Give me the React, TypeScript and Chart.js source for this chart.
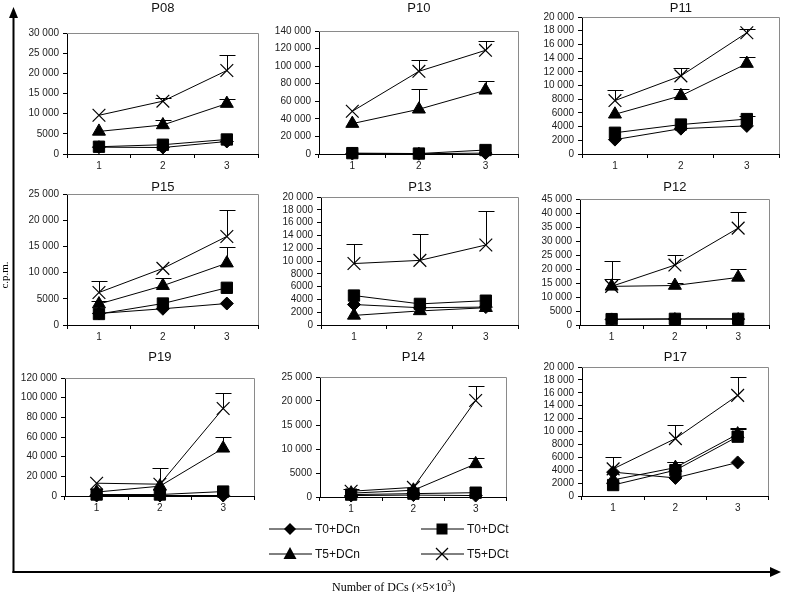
import React, { useEffect, useRef } from 'react';
import { Chart, registerables } from 'chart.js';

Chart.register(...registerables);

// ---------- data ----------
const categories = ['1', '2', '3'];
const seriesNames = ['T0+DCn', 'T0+DCt', 'T5+DCn', 'T5+DCt'];
const panelNames = ['P08', 'P10', 'P11', 'P15', 'P13', 'P12', 'P19', 'P14', 'P17'];
const yMaxes = [30000, 140000, 20000, 25000, 20000, 45000, 120000, 25000, 20000];
const ySteps = [5000, 20000, 2000, 5000, 2000, 5000, 20000, 5000, 2000];

// values per panel (same order as panelNames), points at 1, 2, 3
const t0DCn = [
  [1700, 1600, 3100], [500, 300, 1000], [2100, 3700, 4100],
  [2200, 3100, 4100], [3200, 2700, 2800], [2000, 2100, 2100],
  [500, 500, 500], [300, 400, 300], [3700, 2800, 5200],
];
const t0DCt = [
  [1800, 2300, 3600], [1000, 500, 4500], [3100, 4300, 5100],
  [2100, 4100, 7100], [4600, 3300, 3800], [2100, 2200, 2200],
  [1500, 1500, 4500], [500, 700, 900], [1700, 4000, 9200],
];
const t5DCn = [
  [5600, 7200, 12500], [34600, 50900, 72500], [5800, 8500, 13200],
  [4000, 7500, 11800], [1500, 2200, 2700], [13800, 14100, 17000],
  [4000, 10000, 48500], [800, 1400, 6900], [2500, 4400, 9600],
];
const t5DCt = [
  [9600, 13100, 20700], [48600, 94100, 118000], [7800, 11400, 17700],
  [6200, 10800, 16900], [9600, 10100, 12500], [13800, 21400, 34600],
  [13000, 12000, 89000], [1200, 2000, 20100], [4200, 8900, 15600],
];

// upward error (plus) amounts, null = no bar
const t0DCnErr = [
  [null, null, null], [null, null, null], [null, null, null],
  [null, null, null], [null, null, null], [null, null, null],
  [null, null, null], [null, null, null], [null, null, null],
];
const t0DCtErr = [
  [null, null, null], [null, null, null], [null, null, 500],
  [null, null, null], [null, null, null], [null, null, null],
  [null, null, null], [null, null, null], [null, 1300, 1200],
];
const t5DCnErr = [
  [null, 1200, 1200], [null, 23100, 10600], [null, 1000, 900],
  [500, 1500, 3000], [null, null, null], [2800, 900, 2900],
  [null, null, 11500], [null, null, 1300], [null, 800, 1000],
];
const t5DCtErr = [
  [null, 900, 3900], [null, 12500, 10600], [1500, 1100, 500],
  [2200, null, 5100], [3100, 4100, 5300], [9000, 3600, 5800],
  [null, 16000, 16000], [500, null, 3000], [1800, 2100, 2900],
];

const seriesValues = [t0DCn, t0DCt, t5DCn, t5DCt];
const seriesErrors = [t0DCnErr, t0DCtErr, t5DCnErr, t5DCtErr];

// ---------- layout / style ----------
const pointStyles = ['rectRot', 'rect', 'triangle', 'crossRot'];
const pointRadii = [6.5, 8, 7.5, 9];
// plot boxes [left, top, right, bottom] in page pixels
const boxes = [
  [67, 33, 267, 154], [319, 31, 527, 154], [582, 17, 788, 154],
  [67, 194, 267, 325], [321, 197, 527, 325], [580, 199, 778, 325],
  [65, 378, 263, 496], [320, 377, 515, 497], [582, 367, 777, 496],
];
const rowCanvasTop = [0, 176, 346];
const rowTitleY = [8, 187, 357];
const YW = 60;
const XH = 20;
const PR = 2;
const SANS = '"Liberation Sans", Arial, sans-serif';
const SERIF = '"Liberation Serif", "Times New Roman", serif';

function fmt(v: number) {
  if (v >= 10000) {
    const th = Math.floor(v / 1000);
    const rest = String(v % 1000).padStart(3, '0');
    return th + ' ' + rest;
  }
  return String(v);
}

const decorPlugin = {
  id: 'panelDecor',
  beforeDatasetsDraw(chart: any) {
    const { ctx, chartArea: a } = chart;
    ctx.save();
    ctx.strokeStyle = '#8a8a8a';
    ctx.lineWidth = 1;
    const t = Math.round(a.top) + 0.5;
    const r = Math.round(a.right) - 0.5;
    ctx.beginPath();
    ctx.moveTo(Math.round(a.left), t);
    ctx.lineTo(r, t);
    ctx.lineTo(r, Math.round(a.bottom));
    ctx.stroke();
    ctx.restore();
  },
  afterDatasetsDraw(chart: any) {
    const { ctx } = chart;
    const yScale = chart.scales.y;
    ctx.save();
    ctx.strokeStyle = '#000';
    ctx.lineWidth = 1;
    chart.data.datasets.forEach((ds: any, i: number) => {
      const meta = chart.getDatasetMeta(i);
      (ds.errorPlus || []).forEach((e: number | null, j: number) => {
        if (e == null) return;
        const pt = meta.data[j];
        const v = ds.data[j];
        const x = Math.round(pt.x) + 0.5;
        const y0 = pt.y;
        const y1 = Math.round(yScale.getPixelForValue(v + e)) + 0.5;
        ctx.beginPath();
        ctx.moveTo(x, y0);
        ctx.lineTo(x, y1);
        ctx.moveTo(x - 8, y1);
        ctx.lineTo(x + 8, y1);
        ctx.stroke();
      });
    });
    ctx.restore();
  },
  afterDraw(chart: any, _args: any, opts: any) {
    const { ctx, chartArea: a } = chart;
    ctx.save();
    ctx.fillStyle = '#111';
    ctx.font = '13px ' + SANS;
    ctx.textAlign = 'center';
    ctx.textBaseline = 'middle';
    ctx.fillText(opts.title, (a.left + a.right) / 2, opts.titleY);
    ctx.restore();
  },
};

function Panel({ index }: { index: number }) {
  const ref = useRef<HTMLCanvasElement>(null);
  const [L, T, R, B] = boxes[index];
  const row = Math.floor(index / 3);
  const top = rowCanvasTop[row];
  const left = L - YW;
  const PT = T - top;
  const width = R - L + YW + PR;
  const height = B - top + XH;

  useEffect(() => {
    const chart = new Chart(ref.current as HTMLCanvasElement, {
      type: 'line',
      data: {
        labels: categories,
        datasets: seriesNames.map((name, s) => ({
          label: name,
          data: seriesValues[s][index],
          errorPlus: seriesErrors[s][index],
          borderColor: '#000',
          backgroundColor: '#000',
          borderWidth: 1,
          pointStyle: pointStyles[s],
          pointRadius: pointRadii[s],
          pointBorderWidth: s === 3 ? 1.2 : 1,
          pointBackgroundColor: '#000',
          pointBorderColor: '#000',
          tension: 0,
          clip: false,
        })) as any,
      },
      options: {
        animation: false,
        responsive: false,
        events: [],
        layout: { padding: { top: PT, right: PR, left: 0, bottom: 0 } },
        plugins: {
          legend: { display: false },
          tooltip: { enabled: false },
          title: { display: false },
          panelDecor: { title: panelNames[index], titleY: rowTitleY[row] - top },
        } as any,
        scales: {
          x: {
            type: 'category',
            offset: true,
            grid: { offset: true, drawOnChartArea: false, tickLength: 4, color: '#000' },
            border: { color: '#000', width: 1 },
            ticks: { font: { family: SANS, size: 10 }, color: '#222', padding: 2, maxRotation: 0, autoSkip: false },
            afterFit: (s: any) => { s.height = XH; },
          },
          y: {
            min: 0,
            max: yMaxes[index],
            ticks: {
              stepSize: ySteps[index],
              autoSkip: false,
              callback: (v: any) => fmt(Number(v)),
              font: { family: SANS, size: 10 },
              color: '#222',
              padding: 4,
            },
            grid: { drawOnChartArea: false, tickLength: 4, color: '#000' },
            border: { color: '#000', width: 1 },
            afterFit: (s: any) => { s.width = YW; },
          },
        },
      } as any,
      plugins: [decorPlugin],
    });
    return () => chart.destroy();
  }, []);

  return (
    <canvas
      ref={ref}
      width={width}
      height={height}
      style={{ position: 'absolute', left, top, width, height }}
    />
  );
}

function Marker({ kind, x, y }: { kind: number; x: number; y: number }) {
  if (kind === 0) return <polygon points={`${x - 6},${y} ${x},${y - 6} ${x + 6},${y} ${x},${y + 6}`} fill="#000" />;
  if (kind === 1) return <rect x={x - 5.5} y={y - 5.5} width={11} height={11} fill="#000" />;
  if (kind === 2) return <polygon points={`${x},${y - 7} ${x + 6.5},${y + 5} ${x - 6.5},${y + 5}`} fill="#000" />;
  return (
    <g stroke="#000" strokeWidth={1.2}>
      <line x1={x - 6} y1={y - 6} x2={x + 6} y2={y + 6} />
      <line x1={x - 6} y1={y + 6} x2={x + 6} y2={y - 6} />
    </g>
  );
}

export default function App() {
  const legendPos = [
    { x: 269, y: 529 }, { x: 421, y: 529 },
    { x: 269, y: 554 }, { x: 421, y: 554 },
  ];
  return (
    <div style={{ position: 'absolute', left: 0, top: 0, width: 790, height: 592, background: '#fff', overflow: 'hidden' }}>
      {panelNames.map((_, i) => <Panel key={i} index={i} />)}
      <svg width={790} height={592} style={{ position: 'absolute', left: 0, top: 0 }}>
        {/* big axes */}
        <line x1={13.5} y1={573} x2={13.5} y2={16} stroke="#000" strokeWidth={2} />
        <polygon points="13.5,7 9,18 18,18" fill="#000" />
        <line x1={12.5} y1={572} x2={771} y2={572} stroke="#000" strokeWidth={2} />
        <polygon points="781,572 770,567 770,577" fill="#000" />
        <text transform="translate(8,275) rotate(-90)" textAnchor="middle" fontFamily={SERIF} fontSize={11} fill="#000">c.p.m.</text>
        {/* legend */}
        {seriesNames.map((name, s) => {
          const p = legendPos[s];
          return (
            <g key={name}>
              <line x1={p.x} y1={p.y} x2={p.x + 43} y2={p.y} stroke="#000" strokeWidth={1} />
              <Marker kind={s} x={p.x + 21} y={p.y} />
              <text x={p.x + 46} y={p.y + 4} fontFamily={SANS} fontSize={12} fill="#111">{name}</text>
            </g>
          );
        })}
      </svg>
      <div style={{ position: 'absolute', left: 332, top: 577, fontFamily: SERIF, fontSize: 12, color: '#000', whiteSpace: 'nowrap', lineHeight: '14px' }}>
        Number of DCs (×5×10<sup style={{ fontSize: 8 }}>3</sup>)
      </div>
    </div>
  );
}
